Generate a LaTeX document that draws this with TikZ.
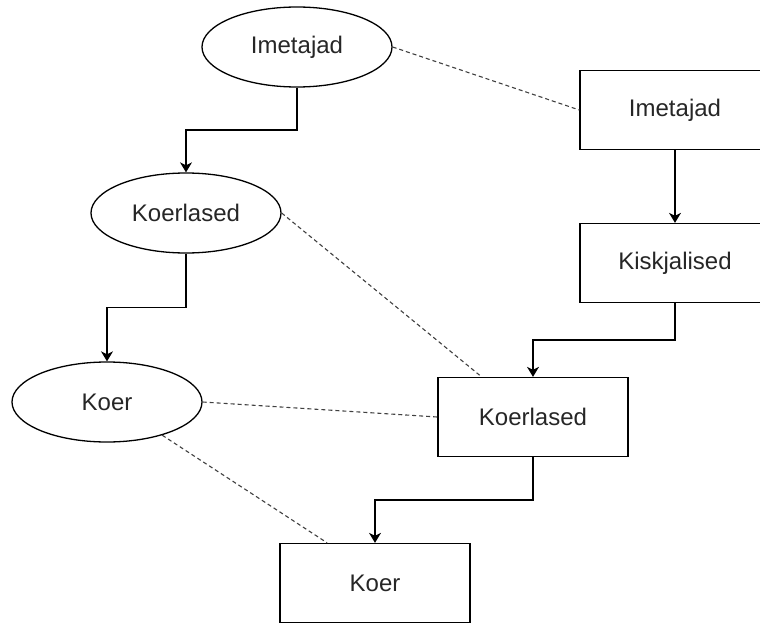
\documentclass[tikz,border=0pt]{standalone}
\usepackage{fontspec}
\setmainfont{Liberation Sans}
\usetikzlibrary{shapes.geometric,arrows.meta,calc}

\begin{document}
\begin{tikzpicture}
[
    x=1pt, y=-1pt,
    every node/.style={font=\fontsize{24}{28}\selectfont, text=black!85, inner sep=0pt},
    oval/.style={shape=ellipse, draw, line width=1.3pt, minimum width=190pt, minimum height=80pt},
    box/.style={shape=rectangle, draw, line width=1.3pt, minimum width=190pt, minimum height=79pt},
    arr/.style={line width=1.3pt, -{Stealth[length=10pt,width=12pt,inset=3pt]}},
    link/.style={line width=1.1pt, black!75, dash pattern=on 4pt off 3pt},
]
\useasboundingbox (0,0) rectangle (760,623);

% left tree
\node[oval] (imet1) at (297,47) {Imetajad};
\node[oval] (koerl1) at (186,213) {Koerlased};
\node[oval] (koer1) at (107,402) {Koer};

% right tree
\node[box] (imet2) at (675,110) {Imetajad};
\node[box] (kisk2) at (675,263) {Kiskjalised};
\node[box] (koerl2) at (533,417) {Koerlased};
\node[box] (koer2) at (375,583) {Koer};

\draw[arr] (imet1.south) |- ($(imet1.south)!.5!(koerl1.north)$) -| (koerl1.north);
\draw[arr] (koerl1.south) |- ($(koerl1.south)!.5!(koer1.north)$) -| (koer1.north);
\draw[arr] (imet2.south) -- (kisk2.north);
\draw[arr] (kisk2.south) |- ($(kisk2.south)!.5!(koerl2.north)$) -| (koerl2.north);
\draw[arr] (koerl2.south) |- ($(koerl2.south)!.5!(koer2.north)$) -| (koer2.north);

% dashed links
\draw[link] (imet1.east) -- (imet2.west);
\draw[link] (koerl1.east) -- (koerl2.142);
\draw[link] (koer1.east) -- (koerl2.west);
\draw[link] (koer1.-31) -- (koer2.140);
\end{tikzpicture}
\end{document}
